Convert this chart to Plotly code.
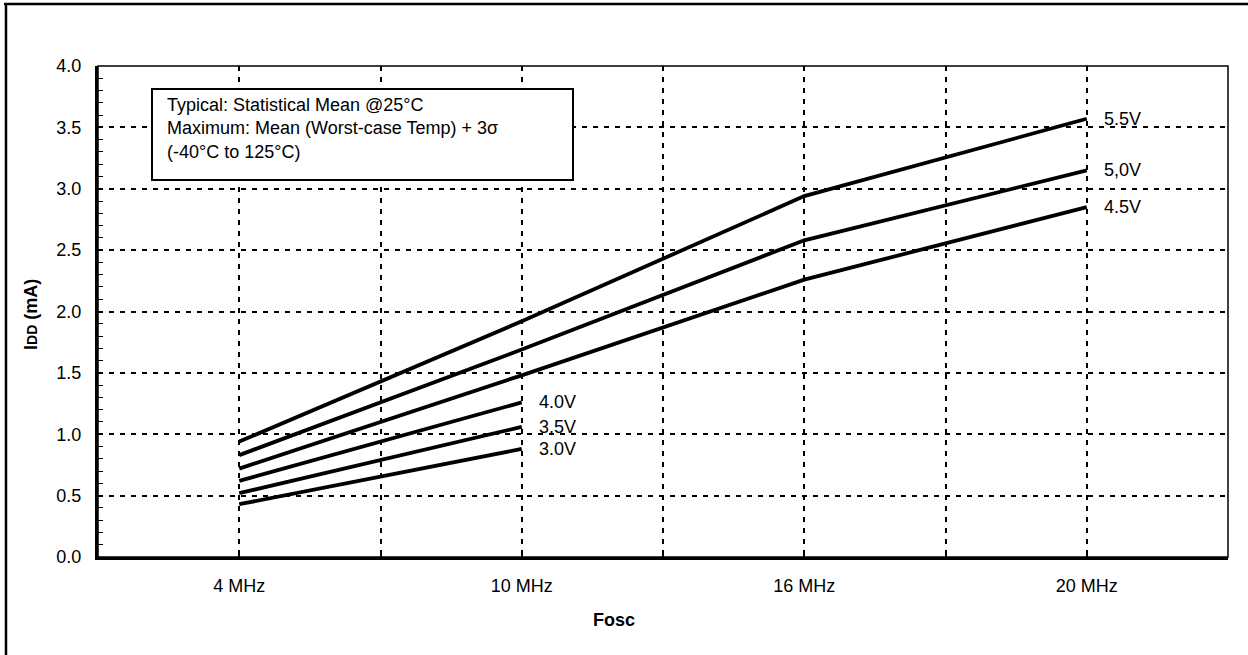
import plotly.graph_objects as go

# Oscillator frequency categories
FREQS = ["4 MHz", "10 MHz", "16 MHz", "20 MHz"]

# IDD (mA) per supply voltage
IDD_55 = [0.94, 1.92, 2.94, 3.57]
IDD_50 = [0.83, 1.69, 2.58, 3.15]
IDD_45 = [0.72, 1.48, 2.26, 2.85]
IDD_40 = [0.62, 1.26]
IDD_35 = [0.52, 1.06]
IDD_30 = [0.43, 0.88]

SERIES = [
    ("5.5V", IDD_55),
    ("5,0V", IDD_50),
    ("4.5V", IDD_45),
    ("4.0V", IDD_40),
    ("3.5V", IDD_35),
    ("3.0V", IDD_30),
]

NOTE_LINES = [
    "Typical: Statistical Mean @25°C",
    "Maximum: Mean (Worst-case Temp) + 3σ",
    "(-40°C to 125°C)",
]

FONT = "Liberation Sans, Arial, sans-serif"
W, H = 1248, 655
ML, MR, MT, MB = 98, 20, 66, 98
PW, PH = W - ML - MR, H - MT - MB


def px(x):
    return (x - ML) / PW


def py(y):
    return (H - MB - y) / PH


fig = go.Figure()

for name, vals in SERIES:
    xs = list(range(len(vals)))
    fig.add_trace(go.Scatter(
        x=xs, y=vals, mode="lines", name=name,
        line=dict(color="black", width=3.8),
        showlegend=False, hoverinfo="skip",
    ))
    fig.add_annotation(
        x=xs[-1], y=vals[-1], text=name, showarrow=False,
        xanchor="left", yanchor="middle", xshift=15,
        font=dict(family=FONT, size=18, color="black"),
    )

grid = dict(showgrid=True, gridcolor="black", gridwidth=2, griddash="5px,6px")

fig.update_xaxes(
    range=[-0.5, len(FREQS) - 0.5],
    tickvals=list(range(len(FREQS))), ticktext=FREQS,
    ticks="inside", ticklen=5, tickwidth=2, tickcolor="black",
    showline=True, linecolor="black", linewidth=3,
    zeroline=False, ticklabelstandoff=10,
    tickfont=dict(family=FONT, size=18, color="black"),
    minor=dict(dtick=0.5, tick0=0.5, ticks="inside", ticklen=5, tickwidth=2,
               tickcolor="black", **grid),
    **grid,
)
fig.update_yaxes(
    range=[0, 4], dtick=0.5, tickformat=".1f",
    ticks="inside", ticklen=5, tickwidth=1, tickcolor="black",
    showline=True, linecolor="black", linewidth=3,
    zeroline=False, ticklabelstandoff=10,
    tickfont=dict(family=FONT, size=18, color="black"),
    minor=dict(dtick=0.1, ticks="inside", ticklen=5, tickwidth=1,
               tickcolor="black", showgrid=False),
    **grid,
)

shapes = [
    # plot frame
    dict(type="rect", xref="paper", yref="paper", x0=0, x1=1, y0=0, y1=1,
         line=dict(color="black", width=1.5)),
    # note box (opaque, covers the grid)
    dict(type="rect", xref="paper", yref="paper",
         x0=px(152), x1=px(573), y0=py(180), y1=py(89),
         fillcolor="white", line=dict(color="black", width=2), layer="above"),
    # page border (top and left)
    dict(type="line", xref="paper", yref="paper",
         x0=px(4), x1=px(W), y0=py(4), y1=py(4),
         line=dict(color="black", width=2.5)),
    dict(type="line", xref="paper", yref="paper",
         x0=px(6), x1=px(6), y0=py(3), y1=py(H),
         line=dict(color="black", width=2.5)),
]

annotations = [
    dict(xref="paper", yref="paper", x=px(165), y=py(128.5),
         xanchor="left", yanchor="middle", align="left", showarrow=False,
         text="<br>".join(NOTE_LINES),
         font=dict(family=FONT, size=18, color="black")),
    dict(xref="paper", yref="paper", x=px(31), y=py(315),
         xanchor="center", yanchor="middle", textangle=-90, showarrow=False,
         text="<b>I<span style='font-size:14px'>DD</span> (mA)</b>",
         font=dict(family=FONT, size=18, color="black")),
    dict(xref="paper", yref="paper", x=px(614), y=py(620),
         xanchor="center", yanchor="middle", showarrow=False,
         text="<b>Fosc</b>",
         font=dict(family=FONT, size=18, color="black")),
]

fig.update_layout(
    width=W, height=H,
    margin=dict(l=ML, r=MR, t=MT, b=MB),
    paper_bgcolor="white", plot_bgcolor="rgba(0,0,0,0)",
    font=dict(family=FONT, size=18, color="black"),
    shapes=shapes,
)
for a in annotations:
    fig.add_annotation(**a)

# drop the default page margin so the figure sits at the window's corner
fig.write_html(
    "out.html",
    config={"displayModeBar": False},
    post_script="document.body.style.margin='0';",
)
